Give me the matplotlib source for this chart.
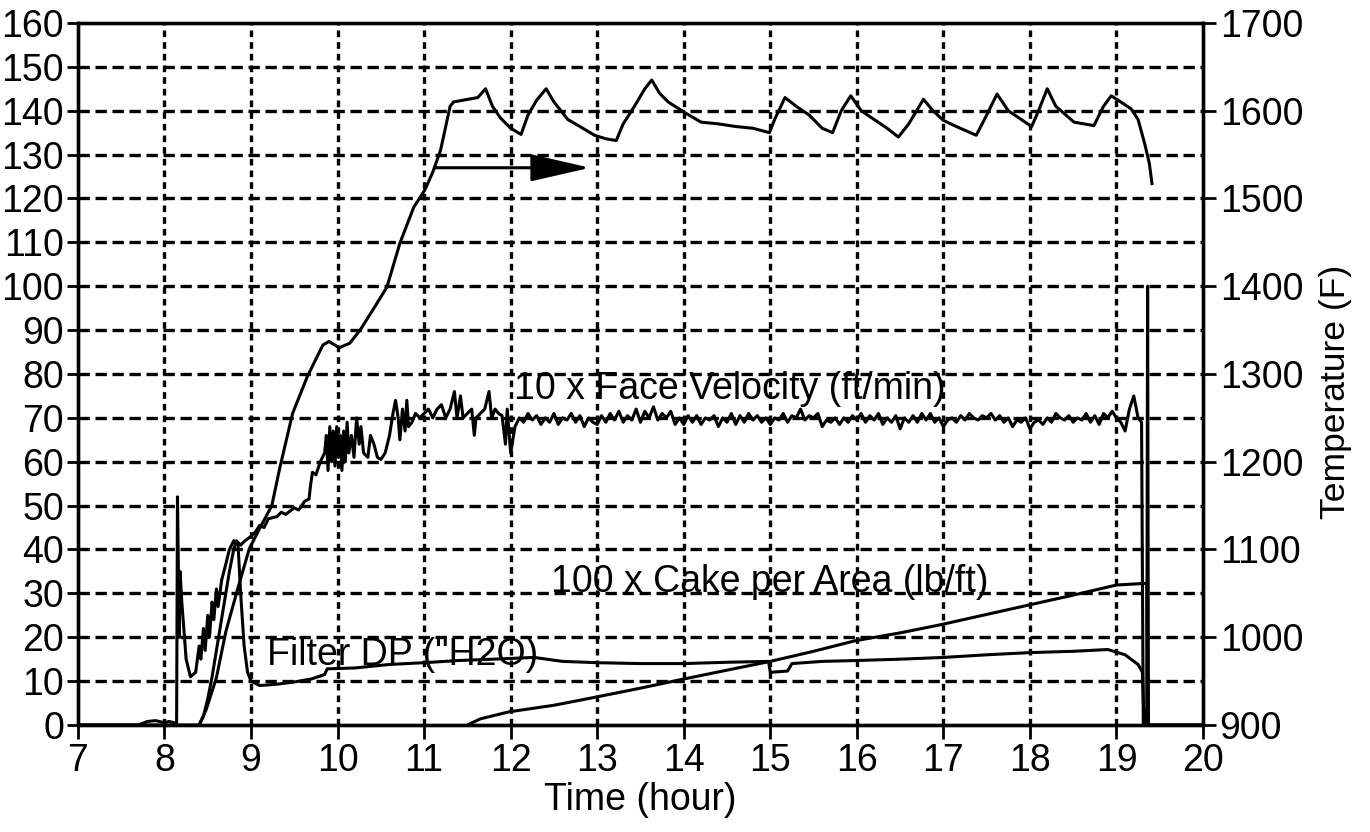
import matplotlib
matplotlib.use('Agg')
import matplotlib.pyplot as plt

plt.rcParams['font.family'] = ['Liberation Sans', 'DejaVu Sans']

# temperature (F), right axis
temp_hour = [8.40, 8.48, 8.60, 8.71, 8.86, 8.98, 9.10, 9.24, 9.33, 9.48, 9.65, 9.83, 9.90,
             10.02, 10.14, 10.26, 10.42, 10.57, 10.72, 10.88, 11.01, 11.10, 11.19, 11.30, 11.34,
             11.45, 11.62, 11.71, 11.79, 11.88, 12.00, 12.12, 12.20, 12.30, 12.41, 12.50, 12.66,
             12.80, 12.97, 13.10, 13.22, 13.30, 13.43, 13.55, 13.63, 13.72, 13.82, 14.01, 14.20,
             14.40, 14.60, 14.80, 14.99, 15.05, 15.17, 15.30, 15.45, 15.60, 15.72, 15.82, 15.93,
             16.05, 16.20, 16.35, 16.48, 16.60, 16.77, 16.88, 17.00, 17.15, 17.38, 17.50, 17.62,
             17.75, 17.90, 18.02, 18.10, 18.20, 18.30, 18.51, 18.74, 18.85, 18.94, 19.05, 19.17,
             19.25, 19.33, 19.38, 19.41]
temp_f = [900, 917, 954, 1007, 1060, 1101, 1124, 1150, 1192, 1255, 1297, 1333, 1337,
          1330, 1335, 1350, 1375, 1399, 1449, 1490, 1510, 1530, 1555, 1605, 1610,
          1612, 1615, 1625, 1605, 1592, 1580, 1573, 1595, 1612, 1625, 1610, 1590,
          1582, 1572, 1568, 1566, 1585, 1605, 1625, 1635, 1620, 1610, 1598, 1587,
          1585, 1582, 1580, 1575, 1590, 1615, 1605, 1595, 1580, 1575, 1600, 1617,
          1600, 1590, 1580, 1570, 1585, 1613, 1600, 1589, 1582, 1572, 1595, 1619,
          1600, 1590, 1582, 1600, 1625, 1605, 1587, 1583, 1605, 1617, 1610, 1602,
          1590, 1561, 1540, 1517]

# 10 x face velocity (ft/min)
fv_hour = [7.0, 8.40, 8.45, 8.50, 8.55, 8.60, 8.65, 8.70, 8.75, 8.80, 8.83, 8.88, 8.93, 9.00,
           9.05, 9.10, 9.15, 9.20, 9.30, 9.35, 9.40, 9.50, 9.55, 9.62, 9.67, 9.69, 9.71, 9.75,
           9.80, 9.85, 9.87, 9.89, 9.91, 9.93, 9.95, 9.97, 9.99, 10.01, 10.03, 10.05, 10.07,
           10.09, 10.11, 10.13, 10.16, 10.19, 10.22, 10.25, 10.27, 10.30, 10.35, 10.38, 10.42,
           10.46, 10.50, 10.55, 10.60, 10.64, 10.67, 10.70, 10.72, 10.75, 10.78, 10.80, 10.82,
           10.86, 10.90, 10.95, 11.00, 11.05, 11.10, 11.15, 11.20, 11.25, 11.30, 11.35, 11.38,
           11.42, 11.45, 11.50, 11.55, 11.58, 11.60, 11.65, 11.70, 11.75, 11.78, 11.82, 11.86,
           11.90, 11.94, 11.96,
           12.00, 12.05, 12.10, 12.15, 12.20, 12.25, 12.30, 12.35, 12.40, 12.45,
           12.50, 12.55, 12.60, 12.65, 12.70, 12.75, 12.80, 12.85, 12.90, 12.95,
           13.00, 13.05, 13.10, 13.15, 13.20, 13.25, 13.30, 13.35, 13.40, 13.45,
           13.50, 13.55, 13.60, 13.65, 13.70, 13.75, 13.80, 13.85, 13.90, 13.95,
           14.00, 14.05, 14.10, 14.15, 14.20, 14.25, 14.30, 14.35, 14.40, 14.45,
           14.50, 14.55, 14.60, 14.65, 14.70, 14.75, 14.80, 14.85, 14.90, 14.95,
           15.00, 15.05, 15.10, 15.15, 15.20, 15.25, 15.30, 15.35, 15.40, 15.45,
           15.50, 15.55, 15.60, 15.65, 15.70, 15.75, 15.80, 15.85, 15.90, 15.95,
           16.00, 16.05, 16.10, 16.15, 16.20, 16.25, 16.30, 16.35, 16.40, 16.45,
           16.50, 16.55, 16.60, 16.65, 16.70, 16.75, 16.80, 16.85, 16.90, 16.95,
           17.00, 17.05, 17.10, 17.15, 17.20, 17.25, 17.30, 17.35, 17.40, 17.45,
           17.50, 17.55, 17.60, 17.65, 17.70, 17.75, 17.80, 17.85, 17.90, 17.95,
           18.00, 18.05, 18.10, 18.15, 18.20, 18.25, 18.30, 18.35, 18.40, 18.45,
           18.50, 18.55, 18.60, 18.65, 18.70, 18.75, 18.80, 18.85, 18.90, 18.95,
           19.00, 19.05, 19.10, 19.15, 19.20, 19.25, 19.29, 19.31, 20.0]
fv_val = [0, 0, 2, 6, 11, 17, 23, 29, 35, 40, 42, 41, 42, 43,
          44, 45.5, 45, 47, 47.5, 48.5, 48, 49.5, 49, 51, 51.5, 55, 57.6, 57,
          60, 62, 66, 58, 68, 60, 67, 59, 68, 61, 66, 58, 67,
          60, 69, 62, 66, 61, 70, 64, 68, 62, 61, 66, 64,
          61, 60.5, 62, 66, 71, 74, 70, 65, 72, 67, 74, 68,
          69, 71, 70, 71, 72, 70, 72, 73, 70, 72, 76, 70,
          75, 70, 71, 72, 66, 70, 71, 72, 76, 70, 72, 71,
          70.5, 64, 72,
          62, 68, 70, 69, 71, 69.5, 70.5, 68.5, 70, 69,
          71, 68.5, 70, 69.5, 71, 69, 70.5, 68, 70, 69,
          68.5, 70.5, 69, 71, 69.5, 71.5, 69, 70.5, 69.5, 72,
          69, 71.5, 70, 72.5, 69.5, 71, 70, 71.5, 68.5, 70,
          68.5, 70.5, 69, 70.5, 68.5, 70, 69.5, 70.5, 68, 70,
          69, 71, 68.5, 70.5, 69, 71, 69.5, 70.5, 69, 70,
          68.5, 70, 69.5, 71, 69, 70.5, 70, 72, 69.5, 70.5,
          70, 71, 68, 69.5, 69, 70, 68.5, 70, 69, 70.5,
          69.5, 71, 69, 70.5, 69.5, 71, 68.5, 70, 69, 70.5,
          67.5, 70, 69, 70.5, 69, 71, 69.5, 71, 69, 70,
          68, 69.5, 70, 69, 70.5, 69.5, 71, 70, 69.5, 70.5,
          70, 71, 69.5, 70.5, 69, 70, 68, 69.5, 69, 70,
          67.5, 69, 69.5, 68.5, 70, 69, 71, 70, 69.5, 70.5,
          69, 70, 69.5, 71, 69, 70.5, 68.5, 71, 70, 71.5,
          70, 69, 67, 72, 75, 70, 69, 0, 0]

# filter DP ("H2O)
dp_hour = [7.0, 7.7, 7.8, 7.9, 8.0, 8.05, 8.12, 8.14, 8.15, 8.17, 8.18, 8.20, 8.25, 8.30,
           8.36, 8.40, 8.42, 8.45, 8.47, 8.50, 8.52, 8.55, 8.57, 8.60, 8.62, 8.66, 8.70,
           8.75, 8.80, 8.85, 8.88, 8.92, 8.96, 9.00, 9.10, 9.30, 9.50, 9.70, 9.85, 9.88,
           10.2, 10.6, 11.0, 11.4, 11.8, 12.27, 12.6, 13.0, 13.5, 14.0, 14.5, 14.98, 15.0,
           15.2, 15.25, 15.6, 16.0, 16.5, 17.0, 17.5, 18.0, 18.5, 18.9, 19.1, 19.25, 19.30,
           19.32, 19.35, 19.36, 19.37, 20.0]
dp_val = [0, 0, 0.8, 1.0, 0.5, 0.8, 0.5, 0.5, 52, 20, 35, 28, 15, 11,
          12, 18, 15, 22, 17, 25, 20, 28, 24, 31, 27, 33, 36,
          40, 42, 41, 30, 18, 12, 10, 9, 9.3, 9.8, 10.5, 11.5, 12.8,
          13, 13.8, 14.2, 14.7, 15.0, 15.4, 14.5, 14.2, 14.0, 14.0, 14.3, 14.5, 12,
          12.3, 14, 14.5, 14.7, 15, 15.4, 16, 16.5, 16.8, 17.2, 16.0, 13.8, 12,
          0, 0, 100, 0, 0]

# 100 x cake per area (lb/ft)
cake_hour = [11.50, 11.65, 11.98, 12.5, 12.97, 13.5, 13.98, 14.5, 15.0, 15.5, 15.98,
             16.5, 16.98, 17.5, 18.0, 18.5, 19.0, 19.35, 19.36]
cake_val = [0, 1.4, 3, 4.5, 6.3, 8.4, 10.4, 12.5, 14.5, 16.8, 19.2,
            21, 22.9, 25.2, 27.4, 29.6, 31.9, 32.3, 0]

fig = plt.figure(figsize=(13.7, 8.32), dpi=100)
ax = fig.add_axes([0.0569, 0.1286, 0.8212, 0.8438])
ax2 = ax.twinx()

fs = 27
for a in (ax, ax2):
    for s in a.spines.values():
        s.set_linewidth(2.4)

ax.set_xlim(7, 20)
ax.set_ylim(0, 160)
ax.set_xticks(range(7, 21))
ax.set_yticks(range(0, 161, 10))
ax.tick_params(axis='y', labelsize=fs, width=2, length=8, pad=2)
ax.tick_params(axis='x', labelsize=fs, width=2, length=10, pad=3, direction='out')

for x in range(8, 20):
    ax.axvline(x, color='black', lw=2.4, ls=(0, (2.0, 1.5)), zorder=1)
for y in range(10, 160, 10):
    ax.axhline(y, color='black', lw=2.4, ls=(0, (3.4, 1.7)), zorder=1)

lw = 2.2
ax.plot(fv_hour, fv_val, color='black', lw=lw, zorder=3)
ax.plot(dp_hour, dp_val, color='black', lw=lw, zorder=3)
ax.plot(cake_hour, cake_val, color='black', lw=lw, zorder=3)

ax2.set_ylim(900, 1700)
ax2.set_yticks(range(900, 1701, 100))
ax2.tick_params(axis='y', labelsize=fs, width=2, length=9, direction='out', pad=3)
ax2.plot(temp_hour, temp_f, color='black', lw=lw, zorder=3)

ax.annotate('', xy=(12.95, 127), xytext=(11.1, 127),
            arrowprops=dict(arrowstyle='-|>,head_length=3.7,head_width=0.85',
                            color='black', lw=2.2), zorder=4)

ax.text(14.53, 76.5, '10 x Face Velocity (ft/min)', fontsize=fs, ha='center', va='center', zorder=4)
ax.text(10.75, 16.0, 'Filter DP ("H2O)', fontsize=fs, ha='center', va='center', zorder=4)
ax.text(14.99, 32.6, '100 x Cake per Area (lb/ft)', fontsize=fs, ha='center', va='center', zorder=4)

fig.text(640 / 1370, 1 - 800 / 832, 'Time (hour)', fontsize=fs, ha='center', va='center')
fig.text(1335 / 1370, 1 - 392 / 832, 'Temperature (F)', fontsize=25.5, rotation=90,
         ha='center', va='center')

fig.savefig('out.png', dpi=100)
